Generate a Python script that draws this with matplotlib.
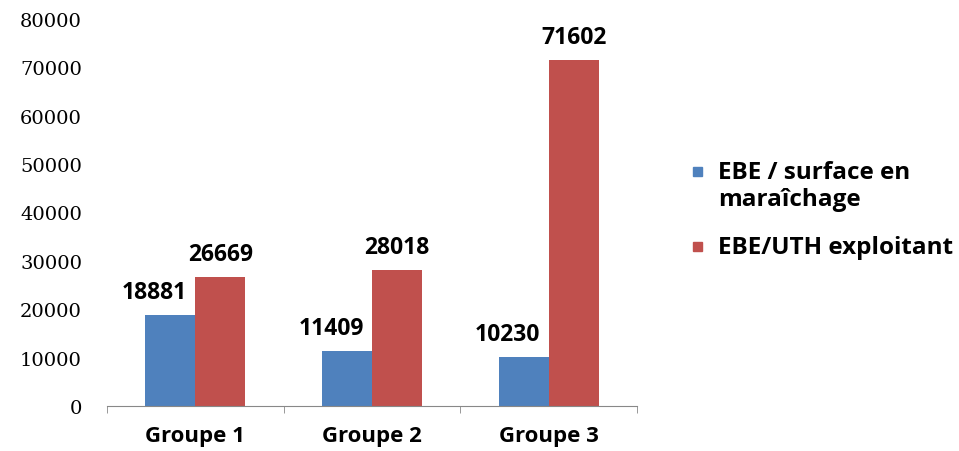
import matplotlib.pyplot as plt
from matplotlib.patches import Rectangle
import numpy as np

# EBE figures per group
groups = ["Groupe 1", "Groupe 2", "Groupe 3"]
ebe_surface = [18881, 11409, 10230]
ebe_uth = [26669, 28018, 71602]
series_names = ["EBE / surface en\nmaraîchage", "EBE/UTH exploitant"]
colors = ["#4F81BD", "#C0504D"]

W, H = 959, 452
fig = plt.figure(figsize=(W / 100, H / 100), dpi=100)
ax = fig.add_axes([107 / W, 45 / H, 530 / W, 387 / H])

x = np.arange(len(groups))
w = 0.283
b1 = ax.bar(x - w / 2, ebe_surface, w, color=colors[0])
b2 = ax.bar(x + w / 2, ebe_uth, w, color=colors[1])

sans = "Open Sans"
# value labels: blue ones sit a bit to the left, red ones centred
for bars, vals, dx in ((b1, ebe_surface, -16), (b2, ebe_uth, 0)):
    for rect, v in zip(bars, vals):
        ax.annotate(str(v), (rect.get_x() + rect.get_width() / 2, v),
                    xytext=(dx, 23), textcoords="offset pixels",
                    ha="center", va="center", family=sans,
                    fontweight="bold", fontsize=16.5)

ax.set_xlim(-0.5, 2.5)
ax.set_ylim(0, 80000)
ax.set_yticks(np.arange(0, 80001, 10000))
ax.set_xticks(x)
ax.set_xticklabels(groups, family=sans, fontweight="bold", fontsize=16)
for t in ax.get_yticklabels():
    t.set_family("DejaVu Serif")
    t.set_fontsize(14)
ax.tick_params(axis="y", length=0, pad=18)
ax.tick_params(axis="x", length=0, pad=14)
# small ticks at the category boundaries
ax.set_xticks([-0.5, 0.5, 1.5, 2.5], minor=True)
ax.tick_params(axis="x", which="minor", length=5, direction="out", color="#888888")

for s in ("top", "right", "left"):
    ax.spines[s].set_visible(False)
ax.spines["bottom"].set_color("#888888")

# legend drawn by hand so the swatch lines up with the first text line
legend_rows = [172, 247]
for name, col, yc in zip(series_names, colors, legend_rows):
    fig.patches.append(Rectangle((693 / W, 1 - (yc + 5) / H), 9 / W, 9 / H,
                                 transform=fig.transFigure, color=col))
    fig.text(718 / W, 1 - (yc - 11) / H, name, ha="left", va="top",
             family=sans, fontweight="bold", fontsize=17.5, linespacing=1.18)

plt.savefig("out.png", dpi=100)
